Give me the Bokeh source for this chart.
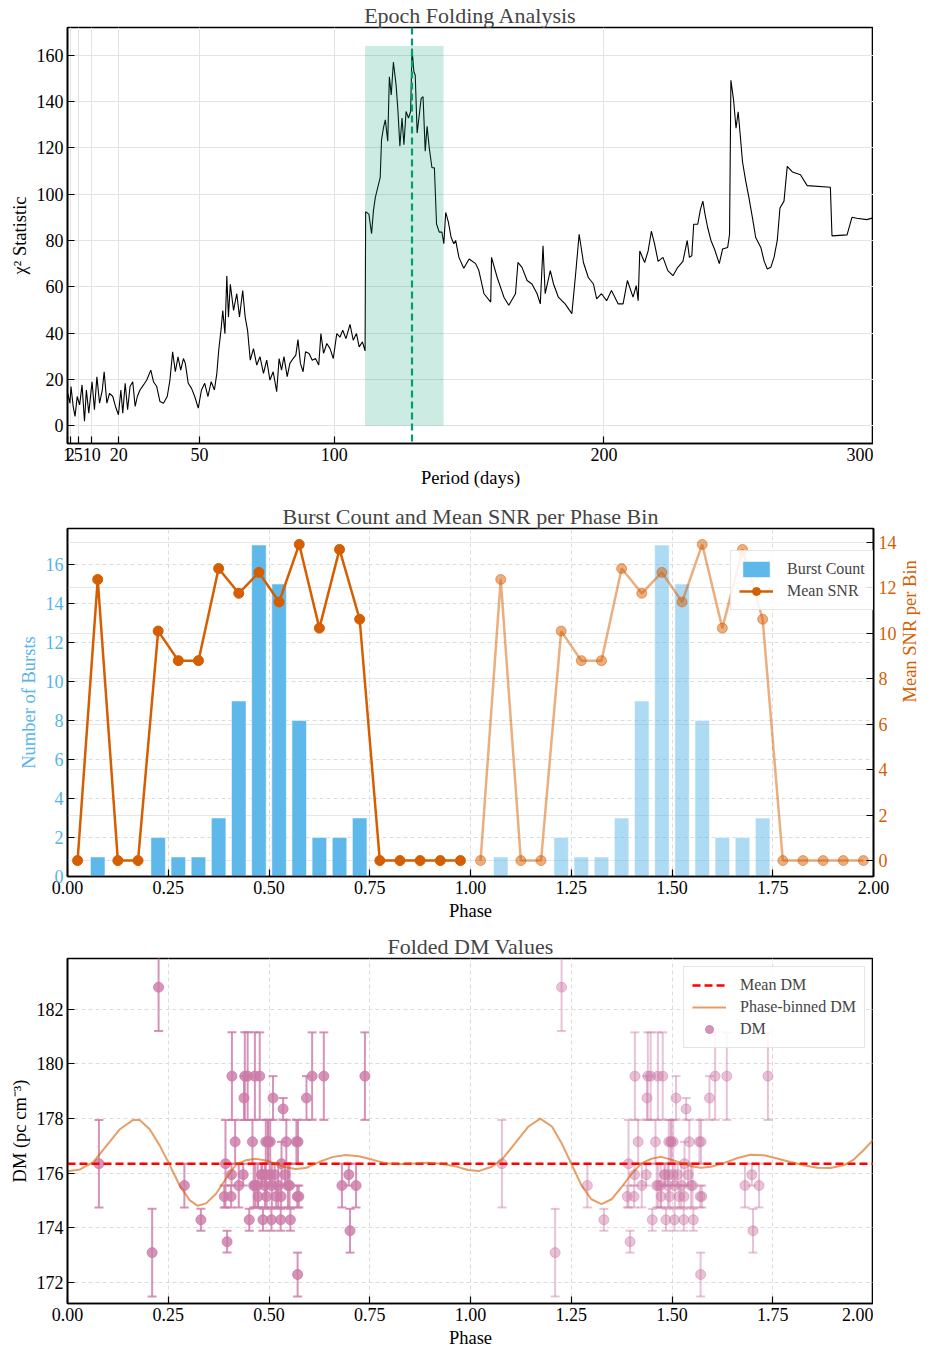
import math
from bokeh.plotting import figure
from bokeh.models import (Range1d, LinearAxis, FixedTicker, PrintfTickFormatter,
                          BoxAnnotation, Span, Legend, LegendItem, Whisker, TeeHead,
                          ColumnDataSource, Grid)
from bokeh.layouts import column
from bokeh.embed import file_html
from bokeh.resources import INLINE

FONT = "Liberation Serif"

# ---------------- Panel 1 data: epoch folding chi-square vs trial period ----------------
period = [1.0, 1.1, 1.9, 2.3, 3.1, 3.8, 4.6, 5.5, 6.4, 7.3, 8.0, 8.9, 10.1, 11.0, 11.9, 12.9, 13.9, 14.6,
          15.6, 16.6, 17.8, 18.8, 19.9, 20.8, 21.5, 22.4, 23.3, 24.2, 25.2, 26.1, 26.9, 27.9, 29.2, 30.4,
          31.9, 32.9, 34.1, 35.3, 36.6, 38.0, 39.0, 40.0, 41.0, 42.0, 43.0, 44.0, 44.7, 45.8, 47.0, 48.2,
          49.5, 50.7, 51.9, 53.1, 54.3, 55.5, 56.4, 57.1, 58.0, 58.6, 59.4, 60.1, 60.7, 61.4,
          62.6, 63.8, 64.8, 66.0, 66.9, 67.8, 68.8, 70.0, 71.2, 72.4, 73.7, 74.9, 76.1, 77.3, 78.6, 79.5,
          80.4, 81.3, 82.5, 83.5, 84.7, 85.7, 86.5, 87.4, 88.4, 89.3, 90.6, 91.8, 93.0, 94.2, 95.0, 96.0,
          97.2, 98.4, 99.6, 100.9, 102.1, 103.1, 104.3, 105.8, 107.0, 108.2, 109.2, 110.4, 111.4, 111.6,
          112.8, 113.8, 114.5, 115.2, 116.1, 117.0, 117.5, 118.2, 118.9, 119.8, 120.4, 121.1, 121.9, 122.9,
          123.6, 124.3, 125.1, 125.8, 126.6, 127.5, 128.3, 128.8, 129.5, 130.0, 130.7, 131.5, 132.2, 132.9,
          133.7, 134.4, 135.2, 136.2, 137.1, 137.9, 138.9, 139.9, 140.6, 141.3, 142.3, 143.3, 144.3,
          145.0, 146.2, 148.0, 150.0, 152.4, 153.6, 155.5, 158.0, 158.3, 160.4, 162.9, 164.7, 167.2, 168.1,
          169.6, 171.5, 173.3, 175.2, 176.4, 177.4, 178.2, 180.1, 181.3, 183.1, 185.6, 188.1, 189.5, 190.8,
          192.4, 194.2, 196.1, 197.3, 199.1, 201.0, 202.8, 205.3, 207.1, 208.7, 210.8, 212.0, 212.7, 213.3,
          215.1, 216.4, 217.6, 218.8, 220.1, 221.9, 223.7, 225.6, 227.4, 229.3, 230.9, 231.7, 232.6, 233.3,
          234.8, 235.8, 236.7, 237.5, 238.5, 239.7, 241.0, 242.8, 244.0, 245.9, 246.6, 247.1, 248.1, 249.0,
          249.8, 250.6, 251.4, 252.6, 253.8, 255.1, 256.3, 258.2, 259.4, 260.6, 261.9, 263.1, 264.3, 265.3,
          266.8, 268.0, 269.9, 272.9, 275.4, 284.0, 284.6, 290.2, 292.0, 293.8, 297.5, 300.0]
chi2 = [12.0, 14.0, 9.7, 16.9, 8.3, 4.0, 12.6, 9.0, 17.6, 1.9, 15.4, 5.4, 19.0, 6.9, 21.1, 9.7, 15.4, 23.3,
        9.7, 14.0, 12.6, 8.3, 4.7, 15.4, 5.4, 18.3, 6.9, 16.9, 19.0, 8.3, 12.6, 15.4, 17.6, 19.7,
        24.0, 19.0, 16.9, 10.4, 9.7, 12.6, 19.7, 31.9, 23.3, 29.7, 24.0, 29.0, 26.9, 18.3, 16.1, 12.6,
        7.6, 15.4, 18.3, 12.6, 19.0, 15.4, 22.6, 32.6, 41.9, 49.7, 39.7, 64.7, 46.9, 61.1,
        49.8, 57.0, 47.0, 58.4, 47.0, 41.2, 28.3, 33.3, 26.2, 29.8, 22.6, 28.3, 19.7, 23.3, 14.7, 29.0,
        24.0, 29.8, 21.2, 26.9, 29.0, 30.5, 37.2, 26.9, 23.3, 31.9, 31.2, 28.3, 29.0, 26.2, 39.8, 31.2,
        35.5, 33.3, 29.0, 39.8, 38.3, 41.2, 37.6, 43.8, 36.9, 39.8, 34.0, 36.2, 32.3, 92.4,
        91.4, 82.9, 92.9, 98.6, 102.9, 107.1, 123.6, 128.6, 132.1, 122.9, 150.7, 142.9, 157.1, 147.1,
        135.7, 120.7, 132.9, 121.4, 135.7, 132.9, 135.7, 162.9, 152.9, 151.4, 126.4, 134.3, 141.4, 142.1,
        118.6, 129.3, 120.0, 111.4, 111.4, 87.1, 83.6, 83.6, 78.6, 92.1, 87.9, 81.4, 78.6,
        80.0, 72.7, 68.0, 72.0, 70.0, 67.0, 57.0, 53.4, 72.7, 64.0, 55.5, 52.0, 57.0, 70.5,
        68.4, 62.7, 61.2, 57.0, 52.6, 77.7, 57.0, 67.0, 61.2, 55.5, 52.6, 48.4, 65.5, 82.7,
        70.5, 64.0, 61.2, 54.8, 57.0, 54.0, 58.4, 52.6, 52.6, 62.7, 55.5, 60.5, 54.0, 75.5,
        70.5, 75.5, 84.0, 78.4, 71.0, 72.7, 67.0, 64.8, 68.4, 71.0, 80.0, 72.7, 73.4, 87.0,
        87.0, 93.4, 97.0, 91.3, 85.5, 80.0, 76.3, 70.0, 76.3, 77.0, 82.7, 149.2, 140.6, 128.5,
        135.6, 125.0, 114.0, 105.6, 98.4, 89.8, 81.3, 77.0, 71.2, 67.7, 68.4, 72.7, 80.0, 94.0,
        97.0, 112.0, 109.6, 108.4, 103.7, 103.0, 82.0, 82.4, 90.0, 89.6, 89.0, 89.8]
best_period = 128.8
search_window = [111.4, 140.5]
window_top = 164.0
period_ticks = [1, 2, 5, 10, 20, 50, 100, 200, 300]

# ---------------- Panel 2 data: phase histogram ----------------
bin_centers = [0.025, 0.075, 0.125, 0.175, 0.225, 0.275, 0.325, 0.375, 0.425, 0.475,
               0.525, 0.575, 0.625, 0.675, 0.725, 0.775, 0.825, 0.875, 0.925, 0.975]
burst_counts = [0, 1, 0, 0, 2, 1, 1, 3, 9, 17, 15, 8, 2, 2, 3, 0, 0, 0, 0, 0]
mean_snr = [0.0, 12.36, 0.0, 0.0, 10.09, 8.79, 8.79, 12.84, 11.75, 12.67,
            11.37, 13.9, 10.22, 13.68, 10.61, 0.0, 0.0, 0.0, 0.0, 0.0]

# ---------------- Panel 3 data: folded DM ----------------
burst_phase = [0.078, 0.210, 0.226, 0.290, 0.331,
               0.389, 0.392, 0.396,
               0.406, 0.407, 0.408, 0.416, 0.425, 0.436, 0.438, 0.440, 0.447,
               0.451, 0.459, 0.462, 0.465, 0.466, 0.472, 0.473, 0.477, 0.481, 0.483, 0.485, 0.490,
               0.492, 0.492, 0.494, 0.497, 0.498,
               0.502, 0.503, 0.506, 0.507, 0.510, 0.514, 0.518, 0.523, 0.529, 0.530, 0.531, 0.535,
               0.540, 0.543, 0.547,
               0.551, 0.553, 0.568, 0.570, 0.571, 0.572, 0.574, 0.593,
               0.607, 0.636, 0.681, 0.698, 0.701, 0.716, 0.738]
burst_dm = [176.35, 173.10, 182.80, 175.55, 174.30,
            175.15, 176.35, 173.50,
            175.15, 175.95, 179.55, 177.15, 175.55, 175.95, 178.75, 179.55, 179.55,
            174.30, 177.15, 175.55, 179.55, 175.55, 175.55, 175.15, 179.55, 175.95, 175.95, 174.30, 175.55,
            177.15, 175.95, 175.15, 177.15, 177.15,
            175.95, 177.15, 174.30, 175.55, 178.75, 175.95, 175.15, 175.55, 174.30, 175.15, 176.35, 178.35,
            175.95, 177.15, 175.55,
            175.55, 174.30, 177.15, 175.15, 172.30, 177.15, 175.15, 178.75,
            179.55, 179.55, 175.55, 175.95, 173.90, 175.55, 179.55]
burst_dm_err = [1.6, 1.6, 1.6, 0.8, 0.4,
                0.4, 1.6, 0.4,
                0.4, 0.4, 1.6, 0.8, 0.8, 0.4, 0.8, 1.6, 1.6,
                0.4, 0.8, 0.8, 1.6, 0.8, 0.8, 0.4, 1.6, 0.4, 0.4, 0.4, 0.8,
                0.8, 0.4, 0.4, 0.8, 0.8,
                0.4, 0.8, 0.4, 0.8, 0.8, 0.4, 0.4, 0.8, 0.4, 0.4, 0.8, 0.4,
                0.4, 0.8, 0.8,
                0.8, 0.4, 0.8, 0.4, 0.8, 0.8, 0.4, 0.8,
                1.6, 1.6, 0.8, 0.4, 0.8, 0.8, 1.6]
mean_dm = 176.35
binned_phase = [0.0, 0.031, 0.064, 0.097, 0.130, 0.163, 0.179, 0.204, 0.229, 0.254, 0.278, 0.303,
                0.323, 0.344, 0.369, 0.393, 0.418, 0.443, 0.467, 0.492, 0.517, 0.541, 0.566, 0.591,
                0.624, 0.657, 0.690, 0.723, 0.756, 0.788, 0.821, 0.863, 0.896, 0.928, 0.961, 0.994,
                1.020, 1.053, 1.078, 1.111, 1.144, 1.173, 1.202, 1.226, 1.251, 1.276, 1.300, 1.325,
                1.350, 1.374, 1.399, 1.424, 1.449, 1.473, 1.498, 1.523, 1.547, 1.572, 1.597, 1.630,
                1.663, 1.695, 1.728, 1.761, 1.794, 1.827, 1.860, 1.893, 1.926, 1.951, 1.975, 2.0]
binned_dm = [176.07, 176.14, 176.41, 177.01, 177.61, 177.95, 177.95, 177.61, 177.01, 176.29, 175.56, 175.02,
             174.81, 174.90, 175.26, 175.80, 176.31, 176.48, 176.53, 176.47, 176.35, 176.22, 176.16, 176.19,
             176.41, 176.59, 176.67, 176.62, 176.50, 176.37, 176.33, 176.36, 176.38, 176.35, 176.26, 176.12,
             176.08, 176.24, 176.50, 177.10, 177.71, 178.00, 177.71, 177.10, 176.32, 175.54, 175.05, 174.87,
             175.05, 175.48, 175.96, 176.36, 176.53, 176.60, 176.50, 176.38, 176.26, 176.20, 176.24, 176.38,
             176.56, 176.68, 176.66, 176.54, 176.41, 176.29, 176.20, 176.19, 176.29, 176.50, 176.84, 177.23]
phase_ticks = [0.0, 0.25, 0.5, 0.75, 1.0, 1.25, 1.5, 1.75, 2.0]

BLUE = "#56B4E9"
VERM = "#D55E00"
PINK = "#CC79A7"
GREEN = "#009E73"


def style_fig(p):
    p.background_fill_color = "white"
    p.border_fill_color = "white"
    p.outline_line_color = "black"
    p.outline_line_width = 1.6
    p.outline_line_alpha = 1.0
    p.title.text_font = FONT
    p.title.text_font_size = "22px"
    p.title.text_font_style = "normal"
    p.title.align = "center"
    p.title.standoff = 0
    p.title.offset = 0


def style_axis(ax, color="black"):
    ax.major_label_text_font = FONT
    ax.major_label_text_font_size = "18px"
    ax.axis_label_text_font = FONT
    ax.axis_label_text_font_size = "18.5px"
    ax.axis_label_text_font_style = "normal"
    ax.major_tick_in = 7
    ax.major_tick_out = 0
    ax.minor_tick_in = 0
    ax.minor_tick_out = 0
    ax.axis_line_color = "black"
    ax.axis_line_width = 1.6
    ax.major_tick_line_color = "black"
    ax.major_tick_line_width = 1.2
    ax.major_label_text_color = color
    ax.axis_label_text_color = color
    ax.major_label_standoff = 4
    ax.axis_label_standoff = 4


FW = 806
common = dict(frame_width=FW, output_backend="svg", toolbar_location=None,
              min_border_left=0, min_border_right=0, min_border_top=0, min_border_bottom=0)

# ================= Panel 1 =================
p1 = figure(frame_height=416, x_range=Range1d(1, 300), y_range=Range1d(-7.7, 172),
            title="Epoch Folding Analysis", margin=(0, 0, 0, 6), **common)
style_fig(p1)
p1.add_layout(BoxAnnotation(left=search_window[0], right=search_window[1], bottom=0, top=window_top,
                            fill_color=GREEN, fill_alpha=0.2, line_alpha=0))
p1.line(period, chi2, line_color="black", line_width=1.1)
p1.add_layout(Span(location=best_period, dimension="height", line_color=GREEN,
                   line_width=2.2, line_dash="7 4"))
p1.xaxis.ticker = FixedTicker(ticks=period_ticks)
p1.yaxis.ticker = FixedTicker(ticks=list(range(0, 161, 20)))
p1.xaxis.axis_label = "Period (days)"
p1.yaxis.axis_label = "χ² Statistic"
style_axis(p1.xaxis[0])
style_axis(p1.yaxis[0])
p1.xgrid.ticker = FixedTicker(ticks=period_ticks)
p1.ygrid.ticker = FixedTicker(ticks=list(range(0, 161, 20)))
for g in (p1.xgrid[0], p1.ygrid[0]):
    g.grid_line_color = "#e3e3e3"
    g.grid_line_width = 1

# ================= Panel 2 =================
snr_ticks = list(range(0, 15, 2))
FH2 = 348
p2 = figure(frame_height=FH2, x_range=Range1d(0, 2), y_range=Range1d(0, 17.85),
            title="Burst Count and Mean SNR per Phase Bin", margin=(11, 0, 0, 6), **common)
style_fig(p2)
p2.extra_y_ranges = {"snr": Range1d(-0.7, 14.6)}

p2.xgrid.ticker = FixedTicker(ticks=phase_ticks)
p2.ygrid.ticker = FixedTicker(ticks=list(range(0, 17, 2)))
for g in (p2.xgrid[0], p2.ygrid[0]):
    g.grid_line_color = "#dcdcdc"
    g.grid_line_dash = "4 3"
    g.grid_line_width = 1
g_r = Grid(dimension=1, ticker=FixedTicker(ticks=snr_ticks), y_range_name="snr",
           grid_line_color="#e6e6e6", grid_line_width=1.2)
p2.add_layout(g_r)

bins2 = [c + 1 for c in bin_centers]
bars1 = p2.vbar(x=bin_centers, top=burst_counts, width=0.036, fill_color=BLUE, fill_alpha=0.95,
                line_color="white", line_width=0.5)
p2.vbar(x=bins2, top=burst_counts, width=0.036, fill_color=BLUE, fill_alpha=0.48,
        line_color="white", line_width=0.5)
l1 = p2.line(bin_centers, mean_snr, line_color=VERM, line_width=2.5, y_range_name="snr")
s1 = p2.scatter(bin_centers, mean_snr, size=10, fill_color=VERM, line_color=VERM, y_range_name="snr")
p2.line(bins2, mean_snr, line_color=VERM, line_width=2.5, line_alpha=0.5, y_range_name="snr")
p2.scatter(bins2, mean_snr, size=10, fill_color=VERM, line_color=VERM, fill_alpha=0.5,
           line_alpha=0.5, y_range_name="snr")

p2.xaxis.ticker = FixedTicker(ticks=phase_ticks)
p2.xaxis.formatter = PrintfTickFormatter(format="%.2f")
p2.xaxis.axis_label = "Phase"
p2.yaxis.ticker = FixedTicker(ticks=list(range(0, 17, 2)))
p2.yaxis.axis_label = "Number of Bursts"
style_axis(p2.xaxis[0])
style_axis(p2.yaxis[0], BLUE)
ax_r = LinearAxis(y_range_name="snr", ticker=FixedTicker(ticks=snr_ticks), axis_label="Mean SNR per Bin")
style_axis(ax_r, VERM)
ax_r.major_label_standoff = 5
ax_r.axis_label_standoff = 10
if "axis_label_orientation" in ax_r.properties():
    ax_r.axis_label_orientation = math.pi / 2
p2.add_layout(ax_r, "right")

leg2 = Legend(items=[LegendItem(label="Burst Count", renderers=[bars1]),
                     LegendItem(label="Mean SNR", renderers=[l1, s1])],
              location=(FW - 143, FH2 - 82))
p2.add_layout(leg2)

# ================= Panel 3 =================
p3 = figure(frame_height=345, x_range=Range1d(0, 2), y_range=Range1d(171.24, 183.85),
            title="Folded DM Values", margin=(8, 0, 0, 6), **common)
style_fig(p3)
p3.xgrid.ticker = FixedTicker(ticks=phase_ticks)
p3.ygrid.ticker = FixedTicker(ticks=list(range(172, 183, 2)))
for g in (p3.xgrid[0], p3.ygrid[0]):
    g.grid_line_color = "#dcdcdc"
    g.grid_line_dash = "4 3"
    g.grid_line_width = 1

for shift, alpha in ((0.0, 0.8), (1.0, 0.45)):
    xs = [ph + shift for ph in burst_phase]
    src = ColumnDataSource(dict(x=xs, y=burst_dm,
                                lo=[d - e for d, e in zip(burst_dm, burst_dm_err)],
                                hi=[d + e for d, e in zip(burst_dm, burst_dm_err)]))
    wk = Whisker(source=src, base="x", lower="lo", upper="hi", dimension="height",
                 line_color=PINK, line_alpha=alpha, line_width=2,
                 upper_head=TeeHead(size=9, line_color=PINK, line_alpha=alpha, line_width=2),
                 lower_head=TeeHead(size=9, line_color=PINK, line_alpha=alpha, line_width=2))
    p3.add_layout(wk)
    sc = p3.scatter("x", "y", source=src, size=10, fill_color=PINK, line_color=PINK,
                    fill_alpha=alpha, line_alpha=alpha)
    if shift == 0.0:
        dm_sc = sc

mean_line = p3.line([phase_ticks[0], phase_ticks[-1]], [mean_dm, mean_dm], line_color="red",
                    line_width=2.5, line_dash="8 4")
binned_line = p3.line(binned_phase, binned_dm, line_color=VERM, line_alpha=0.6, line_width=2)

p3.xaxis.ticker = FixedTicker(ticks=phase_ticks)
p3.xaxis.formatter = PrintfTickFormatter(format="%.2f")
p3.xaxis.axis_label = "Phase"
p3.yaxis.ticker = FixedTicker(ticks=list(range(172, 183, 2)))
p3.yaxis.axis_label = "DM (pc cm⁻³)"
style_axis(p3.xaxis[0])
style_axis(p3.yaxis[0])

leg3 = Legend(items=[LegendItem(label="Mean DM", renderers=[mean_line]),
                     LegendItem(label="Phase-binned DM", renderers=[binned_line]),
                     LegendItem(label="DM", renderers=[dm_sc])],
              location="top_right")
p3.add_layout(leg3)

for lg in (leg2, leg3):
    lg.label_text_font = FONT
    lg.label_text_font_size = "16px"
    lg.border_line_color = "#cccccc"
    lg.border_line_width = 1
    lg.background_fill_alpha = 0.85
    lg.margin = 8
    lg.padding = 8
    lg.spacing = 2
    lg.glyph_width = 34
    lg.label_standoff = 14

layout = column(p1, p2, p3, spacing=0)
open("out.html", "w").write(file_html(layout, INLINE))
